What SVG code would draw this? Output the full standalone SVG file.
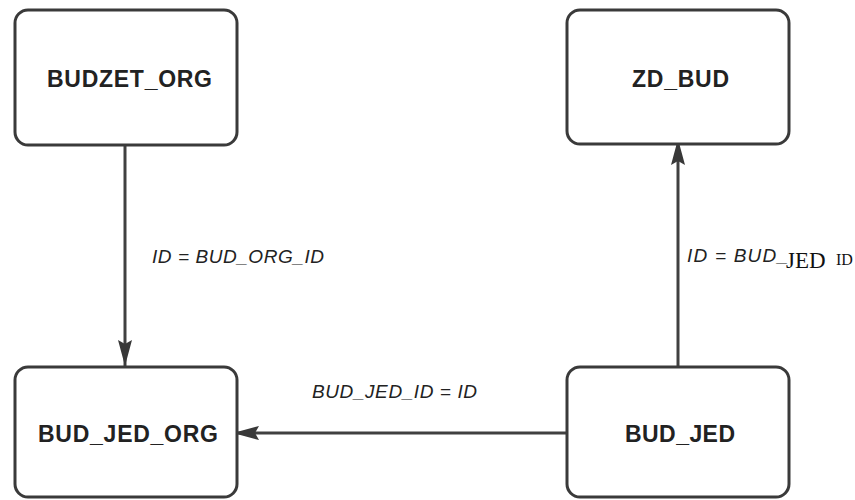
<svg xmlns="http://www.w3.org/2000/svg" width="855" height="500" viewBox="0 0 855 500">
<style>
.box{fill:#fff;stroke:#3a3a3a;stroke-width:3}
.name{font-family:"Liberation Sans",Arial,sans-serif;font-weight:bold;font-size:23px;fill:#222}
.lbl{font-family:"Liberation Sans",Arial,sans-serif;font-style:italic;font-size:19px;fill:#222}
.serif{font-family:"Liberation Serif","Times New Roman",serif;font-style:normal;fill:#111}
.conn{fill:none;stroke:#404040;stroke-width:3}
</style>
<defs>
<marker id="arr" markerUnits="userSpaceOnUse" markerWidth="28" markerHeight="16" viewBox="0 0 28 16" refX="26" refY="8" orient="auto">
<path d="M0,1 L26,8 L0,15 L4,8 Z" fill="#383838"/>
</marker>
</defs>
<rect width="855" height="500" fill="#fff"/>
<g id="connectors">
<line class="conn" x1="125" y1="146" x2="125" y2="366" marker-end="url(#arr)"/>
<line class="conn" x1="678" y1="366" x2="678" y2="139" marker-end="url(#arr)"/>
<line class="conn" x1="566" y1="433" x2="233" y2="433" marker-end="url(#arr)"/>
<text class="lbl" x="152" y="263" textLength="172" lengthAdjust="spacing">ID = BUD_ORG_ID</text>
<text class="lbl" x="312" y="398" textLength="165" lengthAdjust="spacing">BUD_JED_ID = ID</text>
<text class="lbl" x="687" y="262"><tspan textLength="101" lengthAdjust="spacing">ID = BUD_</tspan><tspan class="serif" x="786" y="268" font-size="23">JED</tspan><tspan class="serif" x="836" y="265" font-size="16">ID</tspan></text>
</g>
<g id="BUDZET_ORG">
<rect class="box" x="15" y="10" width="222" height="135" rx="13"/>
<text class="name" x="47" y="87" textLength="165" lengthAdjust="spacing">BUDZET_ORG</text>
</g>
<g id="ZD_BUD">
<rect class="box" x="567" y="10" width="222" height="134" rx="13"/>
<text class="name" x="632" y="87" textLength="97" lengthAdjust="spacing">ZD_BUD</text>
</g>
<g id="BUD_JED_ORG">
<rect class="box" x="15" y="367" width="222" height="130" rx="13"/>
<text class="name" x="38" y="442" textLength="180" lengthAdjust="spacing">BUD_JED_ORG</text>
</g>
<g id="BUD_JED">
<rect class="box" x="567" y="367" width="222" height="130" rx="13"/>
<text class="name" x="625" y="442" textLength="110" lengthAdjust="spacing">BUD_JED</text>
</g>
</svg>
